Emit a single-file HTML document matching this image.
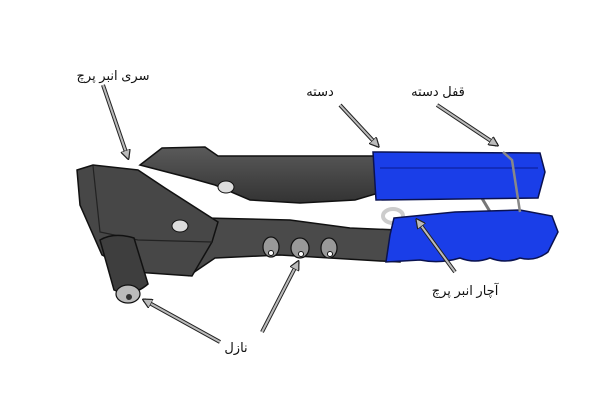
<!DOCTYPE html>
<html><head><meta charset="utf-8"><style>
html,body{margin:0;padding:0;background:#fff;width:600px;height:400px;overflow:hidden}
text{font-family:"Liberation Sans","DejaVu Sans",sans-serif;font-size:13px;fill:#111}
</style></head><body>
<svg width="600" height="400" viewBox="0 0 600 400" xmlns="http://www.w3.org/2000/svg">
<defs>
<marker id="ah" viewBox="0 0 10 10" refX="8" refY="5" markerWidth="5" markerHeight="5" orient="auto">
<path d="M0,0 L10,5 L0,10 Z" fill="#bbb" stroke="#222" stroke-width="1.2"/></marker>
<linearGradient id="dk" x1="0" y1="0" x2="0" y2="1"><stop offset="0" stop-color="#5a5a5a"/><stop offset="1" stop-color="#333"/></linearGradient>
</defs>
<line x1="480" y1="195" x2="492" y2="215" stroke="#777" stroke-width="3"/>
<path d="M140,165 L162,148 L205,147 L218,156 L378,156 L382,192 L355,200 L300,203 L250,200 L215,185 L190,178 Z" fill="url(#dk)" stroke="#111" stroke-width="1.5"/>
<path d="M205,218 L290,220 L350,228 L398,230 L400,262 L380,261 L280,255 L215,258 L190,275 Z" fill="#4a4a4a" stroke="#111" stroke-width="1.5"/>
<path d="M77,170 L93,165 L138,170 L165,188 L218,222 L212,242 L192,276 L135,272 L102,255 L80,205 Z" fill="#474747" stroke="#111" stroke-width="1.5"/>
<path d="M93,166 L100,232 L138,240 L212,242" fill="none" stroke="#222" stroke-width="1.2"/>
<path d="M100,240 Q114,232 134,238 L148,284 Q132,298 114,290 Z" fill="#3e3e3e" stroke="#111" stroke-width="1.5"/>
<ellipse cx="128" cy="294" rx="12" ry="9" fill="#bbb" stroke="#111" stroke-width="1.2"/>
<circle cx="129" cy="297" r="3" fill="#333"/>
<ellipse cx="226" cy="187" rx="8" ry="6" fill="#ddd" stroke="#111"/>
<ellipse cx="180" cy="226" rx="8" ry="6" fill="#ddd" stroke="#111"/>
<g fill="#999" stroke="#111" stroke-width="1.2">
<ellipse cx="271" cy="247" rx="8" ry="10"/><ellipse cx="300" cy="248" rx="9" ry="10"/><ellipse cx="329" cy="248" rx="8" ry="10"/></g>
<g fill="#fff" stroke="#111"><circle cx="271" cy="253" r="2.5"/><circle cx="301" cy="254" r="2.5"/><circle cx="330" cy="254" r="2.5"/></g>
<ellipse cx="393" cy="216" rx="10" ry="7" fill="none" stroke="#ccc" stroke-width="4"/>
<path d="M373,152 L540,153 L545,172 L538,198 L376,200 Z" fill="#1a3ee8" stroke="#0a1250" stroke-width="1.5"/>
<line x1="380" y1="168" x2="538" y2="168" stroke="#0a1a90" stroke-width="1"/>
<path d="M394,218 L455,212 L520,210 L552,216 L558,232 L548,252 Q535,262 520,258 Q505,264 490,258 Q475,264 460,258 Q440,264 420,260 L386,262 L390,235 Z" fill="#1a3ee8" stroke="#0a1250" stroke-width="1.5"/>
<path d="M503,152 L512,160 L520,212" fill="none" stroke="#888" stroke-width="2.5"/>
<g stroke="#222" stroke-width="4" fill="none"><line x1="103" y1="85" x2="128" y2="158"/><line x1="340" y1="105" x2="378" y2="146"/><line x1="437" y1="105" x2="497" y2="145"/><line x1="455" y1="272" x2="417" y2="220"/><line x1="220" y1="342" x2="144" y2="300"/><line x1="262" y1="332" x2="298" y2="262"/></g>
<g stroke="#bbb" stroke-width="2" fill="none" marker-end="url(#ah)"><line x1="103" y1="85" x2="128" y2="158"/><line x1="340" y1="105" x2="378" y2="146"/><line x1="437" y1="105" x2="497" y2="145"/><line x1="455" y1="272" x2="417" y2="220"/><line x1="220" y1="342" x2="144" y2="300"/><line x1="262" y1="332" x2="298" y2="262"/></g>
<text x="113" y="80" text-anchor="middle">سری انبر پرچ</text>
<text x="320" y="96" text-anchor="middle">دسته</text>
<text x="438" y="96" text-anchor="middle">قفل دسته</text>
<text x="465" y="295" text-anchor="middle">آچار انبر پرچ</text>
<text x="236" y="352" text-anchor="middle">نازل</text>
</svg>
</body></html>
